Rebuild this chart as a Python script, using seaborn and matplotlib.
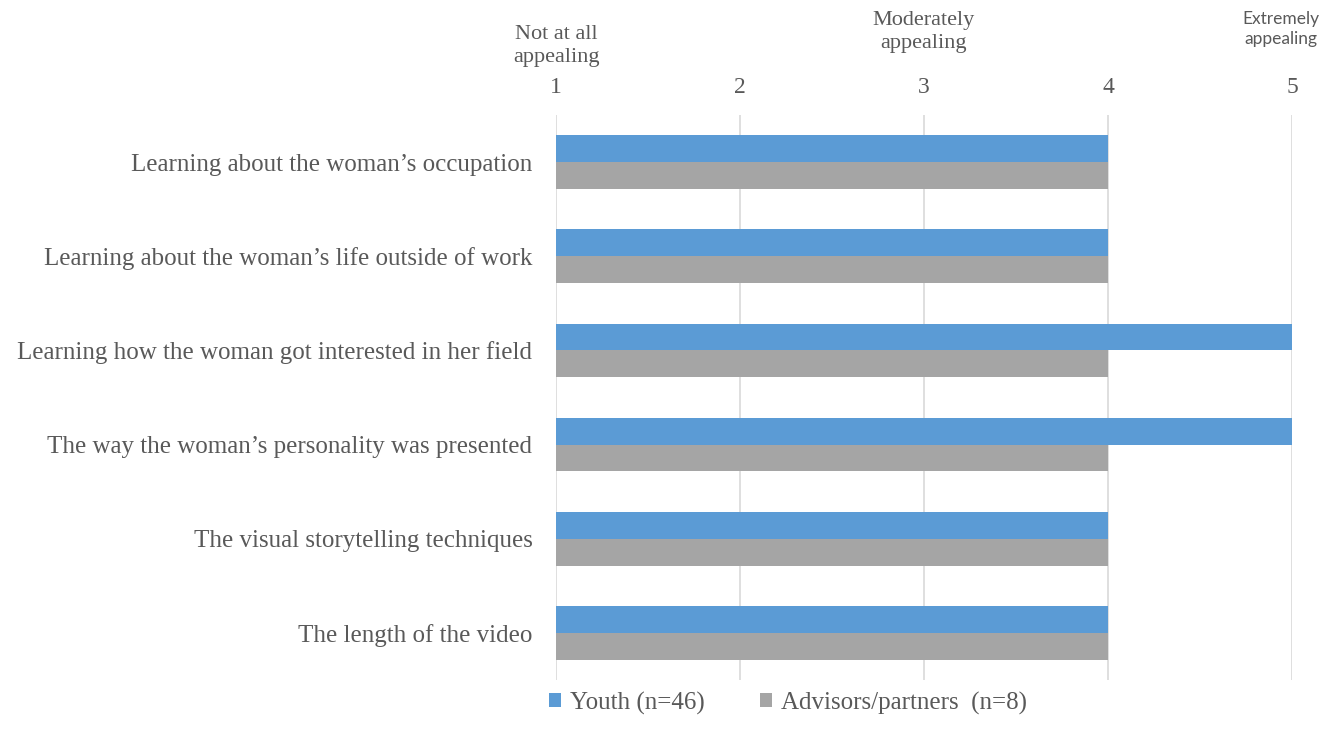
import matplotlib
matplotlib.use("Agg")
import matplotlib.pyplot as plt
import pandas as pd
import seaborn as sns

sns.set_theme(style="white")
plt.rcParams['font.family'] = ['Liberation Serif', 'DejaVu Serif']

categories = [
    "Learning about the woman\u2019s occupation",
    "Learning about the woman\u2019s life outside of work",
    "Learning how the woman got interested in her field",
    "The way the woman\u2019s personality was presented",
    "The visual storytelling techniques",
    "The length of the video",
]
youth = [4, 4, 5, 5, 4, 4]
advisors = [4, 4, 4, 4, 4, 4]
groups = ["Youth (n=46)", "Advisors/partners  (n=8)"]
scale_ticks = [1, 2, 3, 4, 5]
scale_labels = {1: "Not at all\nappealing", 3: "Moderately\nappealing", 5: "Extremely\nappealing"}

df = pd.DataFrame({
    "item": categories * 2,
    "score": youth + advisors,
    "group": [groups[0]] * len(categories) + [groups[1]] * len(categories),
})

txt = "#595959"
fig = plt.figure(figsize=(13.34, 7.42), dpi=100)
ax = fig.add_axes([0.4168, 0.0836, 0.9685 - 0.4168, 0.845 - 0.0836])

sns.barplot(data=df, y="item", x="score", hue="group", order=categories,
            hue_order=groups, palette=["#5B9BD5", "#A5A5A5"], orient="h",
            width=0.57, gap=0, saturation=1, linewidth=0, ax=ax, legend=True)

ax.set_xlim(1, 5)
ax.set_xticks(scale_ticks)
ax.xaxis.tick_top()
ax.tick_params(axis="x", length=0, pad=12, labelsize=17, labelcolor=txt)
ax.tick_params(axis="y", length=0, pad=17, labelsize=18, labelcolor=txt)
ax.set_xlabel("")
ax.set_ylabel("")
ax.grid(axis="x", color="#D9D9D9", linewidth=1.2)
ax.set_axisbelow(True)
for s in ax.spines.values():
    s.set_visible(False)

# scale anchors above the tick numbers
for v, lab in scale_labels.items():
    fam = ['Lato', 'DejaVu Sans'] if v == 5 else ['Liberation Serif', 'DejaVu Serif']
    size = 12.5 if v == 5 else 16
    xpos = 4.94 if v == 5 else v
    yoff = {1: 1.085, 3: 1.11, 5: 1.12}[v]
    ax.text(xpos, yoff, lab, transform=ax.get_xaxis_transform(), ha="center",
            va="bottom", fontsize=size, color=txt, family=fam, linespacing=1.3)

ax.legend_.remove()
handles, labels = ax.get_legend_handles_labels()
leg = fig.legend(handles, labels, loc="center left", bbox_to_anchor=(526 / 1334, 1 - 703 / 742),
                 ncol=2, frameon=False, fontsize=18, handlelength=0.5, handleheight=0.5,
                 handletextpad=0.35, columnspacing=2.2)
for t in leg.get_texts():
    t.set_color(txt)

fig.savefig("out.png", dpi=100)
